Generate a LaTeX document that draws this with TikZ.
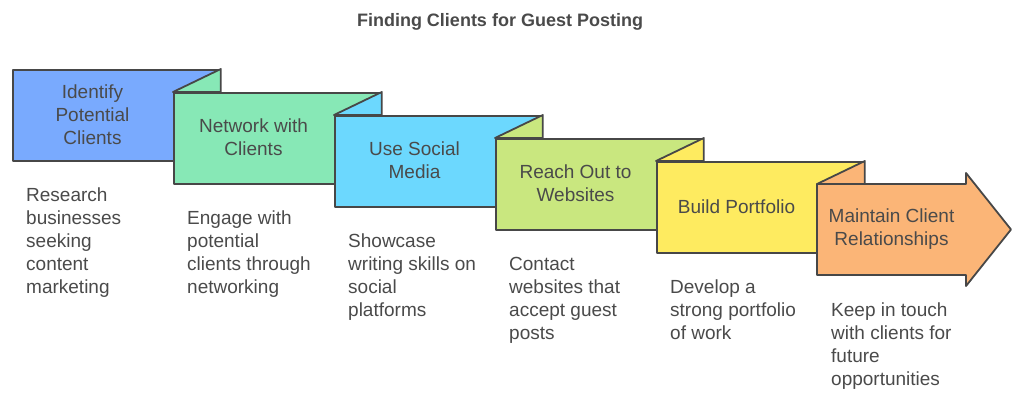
\documentclass[tikz,border=0pt]{standalone}
\usepackage{fontspec}
\setmainfont{Liberation Sans}
\definecolor{cA}{HTML}{79AAFE}
\definecolor{cB}{HTML}{87E8B6}
\definecolor{cC}{HTML}{6CD8FE}
\definecolor{cD}{HTML}{C9E77F}
\definecolor{cE}{HTML}{FEEB60}
\definecolor{cF}{HTML}{FBB577}
\definecolor{edge}{HTML}{474747}
\definecolor{ink}{HTML}{4A4A4A}
\begin{document}
\begin{tikzpicture}[x=1pt,y=-1pt,
  stepbox/.style={draw=edge,line width=1.8pt,line join=round,minimum width=207pt,minimum height=91pt,anchor=north west,inner sep=0pt},
  flap/.style={draw=edge,line width=1.8pt,line join=round},
  lbl/.style={text=ink,font=\fontsize{19}{23}\selectfont,align=center,inner sep=0pt},
  desc/.style={text=ink,font=\fontsize{19}{23}\selectfont,align=left,anchor=north west,inner sep=0pt},
  ttl/.style={text=ink,font=\fontsize{18}{21}\selectfont\bfseries,inner sep=0pt}]
\useasboundingbox (0,0) rectangle (1024,402);
\node[ttl] (title) at (500,22) {Finding Clients for Guest Posting};
% box 1
\node[stepbox,fill=cA] (b1) at (12,69) {};
% box 2
\node[stepbox,fill=cB] (b2) at (173,92) {};
\filldraw[flap,fill=cB] (b2.north west) -- (b1.north east) -- (b1.north east |- b2.north) -- cycle;
% box 3
\node[stepbox,fill=cC] (b3) at (334,115) {};
\filldraw[flap,fill=cC] (b3.north west) -- (b2.north east) -- (b2.north east |- b3.north) -- cycle;
% box 4
\node[stepbox,fill=cD] (b4) at (495,138) {};
\filldraw[flap,fill=cD] (b4.north west) -- (b3.north east) -- (b3.north east |- b4.north) -- cycle;
% box 5
\node[stepbox,fill=cE] (b5) at (656,161) {};
\filldraw[flap,fill=cE] (b5.north west) -- (b4.north east) -- (b4.north east |- b5.north) -- cycle;
% box 6 (arrow)
\coordinate (a1) at (817,184);
\coordinate (a2) at (966,184);
\coordinate (a3) at (966,173);
\coordinate (a4) at (1011,229.5);
\coordinate (a5) at (966,286);
\coordinate (a6) at (966,275);
\coordinate (a7) at (817,275);
\filldraw[flap,fill=cF] (a1) -- (a2) -- (a3) -- (a4) -- (a5) -- (a6) -- (a7) -- cycle;
\filldraw[flap,fill=cF] (a1) -- (b5.north east) -- (b5.north east |- a1) -- cycle;
% labels
\node[lbl] (l1) at (92.5,114.5) {Identify\\Potential\\Clients};
\node[lbl] (l2) at (253.5,137.5) {Network with\\Clients};
\node[lbl] (l3) at (414.5,160.5) {Use Social\\Media};
\node[lbl] (l4) at (575.5,183.5) {Reach Out to\\Websites};
\node[lbl] (l5) at (736.5,206.5) {Build Portfolio};
\node[lbl] (l6) at (891.5,229.5) {Maintain Client\\Relationships};
% descriptions
\node[desc] (d1) at (26,186) {\rule{0pt}{15pt}Research\\businesses\\seeking\\content\\marketing};
\node[desc] (d2) at (187,209) {\rule{0pt}{15pt}Engage with\\potential\\clients through\\networking};
\node[desc] (d3) at (348,232) {\rule{0pt}{15pt}Showcase\\writing skills on\\social\\platforms};
\node[desc] (d4) at (509,255) {\rule{0pt}{15pt}Contact\\websites that\\accept guest\\posts};
\node[desc] (d5) at (670,278) {\rule{0pt}{15pt}Develop a\\strong portfolio\\of work};
\node[desc] (d6) at (831,301) {\rule{0pt}{15pt}Keep in touch\\with clients for\\future\\opportunities};
\end{tikzpicture}
\end{document}
